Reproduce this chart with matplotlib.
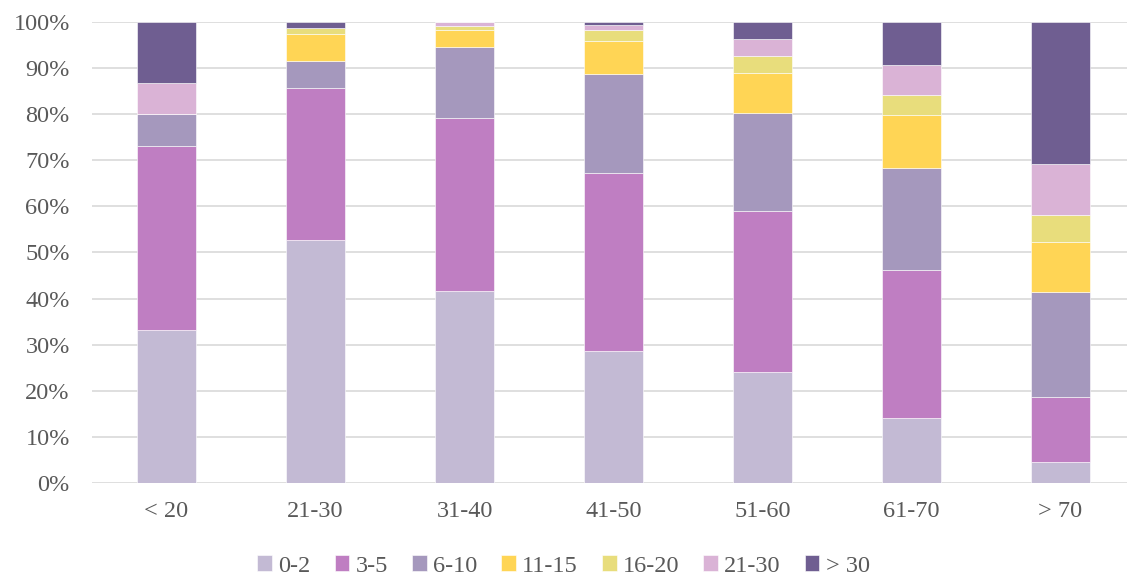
import matplotlib.pyplot as plt
import numpy as np

plt.rcParams['font.family'] = ['Liberation Serif', 'DejaVu Serif']

# age groups on x axis
categories = ['< 20', '21-30', '31-40', '41-50', '51-60', '61-70', '> 70']
series_names = ['0-2', '3-5', '6-10', '11-15', '16-20', '21-30', '> 30']

# percent shares per series
s_0_2 = [33.3, 52.7, 41.7, 28.7, 24.1, 14.1, 4.7]
s_3_5 = [39.8, 33.0, 37.4, 38.6, 34.9, 32.1, 14.1]
s_6_10 = [6.9, 5.8, 15.5, 21.3, 21.2, 22.2, 22.7]
s_11_15 = [0.0, 5.8, 3.7, 7.3, 8.6, 11.4, 10.7]
s_16_20 = [0.0, 1.3, 0.8, 2.4, 3.8, 4.3, 5.9]
s_21_30 = [6.7, 0.0, 0.9, 1.0, 3.7, 6.5, 11.0]
s_gt_30 = [13.3, 1.4, 0.0, 0.7, 3.7, 9.4, 30.9]

colors = ['#C3BAD4', '#BF7EC2', '#A598BD', '#FFD555', '#E8DD7C', '#DAB3D6', '#6F5E91']

series = [s_0_2, s_3_5, s_6_10, s_11_15, s_16_20, s_21_30, s_gt_30]

fig = plt.figure(figsize=(11.27, 5.78), dpi=100)
ax = fig.add_axes([92/1127, 94.7/578, 1035/1127, 461.6/578])

x = np.arange(len(categories))
bottom = np.zeros(len(categories))
for name, vals, c in zip(series_names, series, colors):
    vals = np.array(vals)
    ax.bar(x, vals, 0.4, bottom=bottom, color=c, label=name,
           edgecolor='white', linewidth=0.4, zorder=2)
    bottom += vals

ax.set_ylim(0, 100)
ax.set_xlim(-0.5, -0.5 + 1035/149)
ax.set_yticks(np.arange(0, 101, 10))
ax.set_yticklabels(['%d%%' % v for v in range(0, 101, 10)])
ax.set_xticks(x)
ax.set_xticklabels(categories)
ax.yaxis.grid(True, color='#D9D9D9', linewidth=1.2, zorder=0)
ax.set_axisbelow(True)
for sp in ax.spines.values():
    sp.set_visible(False)
ax.tick_params(axis='both', length=0, labelsize=17.5, labelcolor='#595959')
ax.tick_params(axis='y', pad=16)
ax.tick_params(axis='x', pad=13)

fig.legend(loc='center', bbox_to_anchor=(0.5, 12/578), ncol=7,
           frameon=False, fontsize=17.5, handlelength=0.6, handleheight=0.6,
           handletextpad=0.25, columnspacing=1.0, labelcolor='#595959')

fig.savefig('out.png', dpi=100)
